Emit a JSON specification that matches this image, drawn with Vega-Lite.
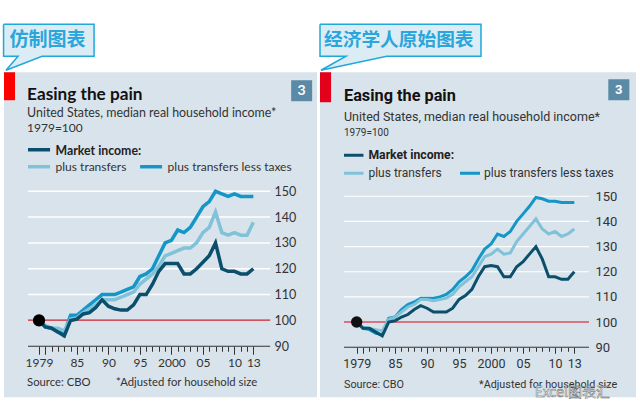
{"$schema":"https://vega.github.io/schema/vega-lite/v6.json","background":"white","padding":{"left":0,"top":20.25,"right":0,"bottom":0},"autosize":"pad","bounds":"flush","spacing":3,"config":{"view":{"fill":"#d9e3eb","stroke":null}},
"datasets":{"left":[
{"a":1979,"taxes":100,"transfers":100,"market":100},{"a":1980,"taxes":97.5,"transfers":98,"market":97.5},{"a":1981,"taxes":97,"transfers":97,"market":97},{"a":1982,"taxes":95.5,"transfers":97,"market":95.5},{"a":1983,"taxes":95,"transfers":96,"market":94},{"a":1984,"taxes":102,"transfers":100.5,"market":100},{"a":1985,"taxes":102,"transfers":101,"market":100.5},{"a":1986,"taxes":104,"transfers":103,"market":102.5},{"a":1987,"taxes":106,"transfers":104.5,"market":103},{"a":1988,"taxes":108,"transfers":106,"market":105},{"a":1989,"taxes":110,"transfers":108,"market":108},{"a":1990,"taxes":110,"transfers":108,"market":105.5},{"a":1991,"taxes":110,"transfers":108,"market":104.5},{"a":1992,"taxes":111,"transfers":109,"market":104},{"a":1993,"taxes":112,"transfers":110,"market":104},{"a":1994,"taxes":113,"transfers":111,"market":106},{"a":1995,"taxes":117,"transfers":114,"market":110},{"a":1996,"taxes":118,"transfers":116,"market":110},{"a":1997,"taxes":120,"transfers":118,"market":114},{"a":1998,"taxes":125,"transfers":121,"market":119},{"a":1999,"taxes":130,"transfers":125,"market":122},{"a":2000,"taxes":131,"transfers":126,"market":122},{"a":2001,"taxes":135,"transfers":127,"market":122},{"a":2002,"taxes":134,"transfers":128,"market":118},{"a":2003,"taxes":136,"transfers":128,"market":118},{"a":2004,"taxes":140,"transfers":130,"market":120},{"a":2005,"taxes":144,"transfers":134,"market":122.5},{"a":2006,"taxes":146,"transfers":136,"market":125},{"a":2007,"taxes":150,"transfers":142,"market":130},{"a":2008,"taxes":149,"transfers":134,"market":120},{"a":2009,"taxes":148,"transfers":133,"market":119},{"a":2010,"taxes":149,"transfers":134,"market":119},{"a":2011,"taxes":148,"transfers":133,"market":118},{"a":2012,"taxes":148,"transfers":133,"market":118},{"a":2013,"taxes":148,"transfers":138,"market":120}],
"right":[
{"a":1979,"taxes":100,"transfers":100,"market":100},{"a":1980,"taxes":97.5,"transfers":98,"market":97.5},{"a":1981,"taxes":97,"transfers":97.5,"market":97.5},{"a":1982,"taxes":95.5,"transfers":97,"market":96},{"a":1983,"taxes":95,"transfers":96.5,"market":94.5},{"a":1984,"taxes":101.5,"transfers":101,"market":100},{"a":1985,"taxes":102,"transfers":102,"market":100.5},{"a":1986,"taxes":105,"transfers":104,"market":102},{"a":1987,"taxes":107,"transfers":106,"market":103},{"a":1988,"taxes":108,"transfers":107,"market":105},{"a":1989,"taxes":109.5,"transfers":109,"market":106.5},{"a":1990,"taxes":109.5,"transfers":109,"market":105.5},{"a":1991,"taxes":109.5,"transfers":108.5,"market":104},{"a":1992,"taxes":110,"transfers":109,"market":104},{"a":1993,"taxes":111,"transfers":109.5,"market":104},{"a":1994,"taxes":113,"transfers":111,"market":105.5},{"a":1995,"taxes":116,"transfers":114,"market":109},{"a":1996,"taxes":118,"transfers":116,"market":110.5},{"a":1997,"taxes":120.5,"transfers":118,"market":113},{"a":1998,"taxes":125,"transfers":122,"market":118},{"a":1999,"taxes":129,"transfers":126,"market":122},{"a":2000,"taxes":131,"transfers":127,"market":122.5},{"a":2001,"taxes":135,"transfers":129,"market":122},{"a":2002,"taxes":134,"transfers":127,"market":118},{"a":2003,"taxes":136,"transfers":127.5,"market":118},{"a":2004,"taxes":140,"transfers":132,"market":122},{"a":2005,"taxes":143,"transfers":135,"market":124},{"a":2006,"taxes":146,"transfers":138,"market":127},{"a":2007,"taxes":149.5,"transfers":141,"market":130},{"a":2008,"taxes":149,"transfers":137,"market":125},{"a":2009,"taxes":148,"transfers":135,"market":118},{"a":2010,"taxes":148,"transfers":136,"market":118},{"a":2011,"taxes":147.5,"transfers":134,"market":117},{"a":2012,"taxes":147.5,"transfers":135,"market":117},{"a":2013,"taxes":147.5,"transfers":137,"market":120}]},
"hconcat":[
{"width":313,"height":325,"encoding":{"x":{"field":"a","type":"quantitative","scale":{"domain":[1973.44,2023.1],"nice":false,"zero":false},"axis":{"title":null,"grid":false,"domain":false,"offset":-51,"values":[1979,1980,1981,1982,1983,1984,1985,1986,1987,1988,1989,1990,1991,1992,1993,1994,1995,1996,1997,1998,1999,2000,2001,2002,2003,2004,2005,2006,2007,2008,2009,2010,2011,2012,2013],"labelExpr":"datum.value==1979?'1979':datum.value==1985?'85':datum.value==1990?'90':datum.value==1995?'95':datum.value==2000?'2000':datum.value==2005?'05':datum.value==2010?'10':datum.value==2013?'13':''","labelOverlap":false,"labelFont":"Lato","labelFontSize":12,"labelColor":"#333333","labelPadding":3,"tickColor":"#333333","tickWidth":1,"tickSize":{"condition":{"test":"datum.value==1979||datum.value%5==0||datum.value==2013","value":8},"value":5}}},"y":{"field":"c","type":"quantitative","scale":{"domain":[70.26,196.07],"nice":false,"zero":false},"axis":{"title":null,"grid":false,"domain":false,"ticks":false,"orient":"right","offset":-47,"values":[90,100,110,120,130,140,150],"labelFont":"Lato","labelFontSize":12.5,"labelColor":"#333333","labelPadding":4}}},"layer":[
{"data":{"values":[{"a":1973.44,"b":1975.19,"c":196.07,"d":185.24}]},"mark":{"type":"rect","color":"#ff0000"},"encoding":{"x2":{"field":"b"},"y2":{"field":"d"}}},
{"data":{"values":[{"a":2019,"b":2022.33,"c":192.98,"d":184.85}]},"mark":{"type":"rect","color":"#5b8aa6"},"encoding":{"x2":{"field":"b"},"y2":{"field":"d"}}},
{"data":{"values":[{"o":1,"a":1973.37,"c":214.66},{"o":2,"a":1987.73,"c":214.66},{"o":3,"a":1987.73,"c":202.27},{"o":4,"a":1979.48,"c":202.27},{"o":5,"a":1973.76,"c":196.85},{"o":6,"a":1975.67,"c":202.27},{"o":7,"a":1973.37,"c":202.27},{"o":8,"a":1973.37,"c":214.66}]},"mark":{"type":"line","fill":"#dcecf5","stroke":"#1fa8dc","strokeWidth":1.5,"clip":false},"encoding":{"order":{"field":"o"}}},
{"data":{"values":[{"a":1977.25,"b":2015.67,"c":110},{"a":1977.25,"b":2015.67,"c":120},{"a":1977.25,"b":2015.67,"c":130},{"a":1977.25,"b":2015.67,"c":140},{"a":1977.25,"b":2015.67,"c":150}]},"mark":{"type":"rule","color":"#ffffff","strokeWidth":1.5},"encoding":{"x2":{"field":"b"}}},
{"data":{"values":[{"a":1977.25,"b":2015.67,"c":100.1}]},"mark":{"type":"rule","color":"#d0202c","strokeWidth":1.2},"encoding":{"x2":{"field":"b"}}},
{"data":{"values":[{"a":1977.25,"b":2015.67,"c":90}]},"mark":{"type":"rule","color":"#333333","strokeWidth":1},"encoding":{"x2":{"field":"b"}}},
{"data":{"name":"left"},"transform":[{"fold":["taxes","transfers","market"],"as":["series","c"]}],"mark":{"type":"line","strokeWidth":3.5,"clip":false},"encoding":{"color":{"field":"series","type":"nominal","scale":{"domain":["taxes","transfers","market"],"range":["#1496c9","#80c2d8","#0b4f6c"]},"legend":null},"order":{"field":"a"}}},
{"data":{"values":[{"a":1977.25,"b":1980.75,"c":166.07,"series":"market"},{"a":1977.25,"b":1980.75,"c":159.5,"series":"transfers"},{"a":1995.03,"b":1998.52,"c":159.5,"series":"taxes"}]},"mark":{"type":"rule","strokeWidth":3.5},"encoding":{"x2":{"field":"b"},"color":{"field":"series","type":"nominal","legend":null}}},
{"data":{"values":[{"a":1979,"c":100}]},"mark":{"type":"point","filled":true,"color":"#000000","size":150,"opacity":1}},
{"data":{"values":[{"a":1977.1,"c":187.37,"t":"Easing the pain"}]},"mark":{"type":"text","align":"left","baseline":"middle","font":"Lato","fontWeight":"bold","fontSize":17.2,"color":"#111111"},"encoding":{"text":{"field":"t"}}},
{"data":{"values":[{"a":1977.1,"c":180.2,"t":"United States, median real household income*"}]},"mark":{"type":"text","align":"left","baseline":"middle","font":"Lato","fontSize":12.4,"color":"#333333"},"encoding":{"text":{"field":"t"}}},
{"data":{"values":[{"a":1977.1,"c":174.4,"t":"1979=100"},{"a":1981.62,"c":159.5,"t":"plus transfers"},{"a":1999.4,"c":159.5,"t":"plus transfers less taxes"}]},"mark":{"type":"text","align":"left","baseline":"middle","font":"Lato","fontSize":12,"color":"#333333"},"encoding":{"text":{"field":"t"}}},
{"data":{"values":[{"a":1977.1,"c":75.87,"t":"Source: CBO"},{"a":1991.22,"c":75.87,"t":"*Adjusted for household size"}]},"mark":{"type":"text","align":"left","baseline":"middle","font":"Lato","fontSize":11.3,"color":"#333333"},"encoding":{"text":{"field":"t"}}},
{"data":{"values":[{"a":1981.62,"c":165.69,"t":"Market income:"}]},"mark":{"type":"text","align":"left","baseline":"middle","font":"Lato","fontWeight":"bold","fontSize":12.3,"color":"#222222"},"encoding":{"text":{"field":"t"}}},
{"data":{"values":[{"a":2020.67,"c":188.9,"t":"3"}]},"mark":{"type":"text","align":"center","baseline":"middle","font":"Lato","fontWeight":"bold","fontSize":14,"color":"#ffffff"},"encoding":{"text":{"field":"t"}}},
{"data":{"values":[{"a":1974.3,"c":208.5,"t":"仿制图表"}]},"mark":{"type":"text","align":"left","baseline":"middle","font":"Noto Sans CJK SC","fontWeight":"bold","fontSize":19,"color":"#2aa6dc","clip":false},"encoding":{"text":{"field":"t"}}}
]},
{"width":316,"height":325,"encoding":{"x":{"field":"a","type":"quantitative","scale":{"domain":[1973.27,2022.64],"nice":false,"zero":false},"axis":{"title":null,"grid":false,"domain":false,"offset":-50,"values":[1979,1980,1981,1982,1983,1984,1985,1986,1987,1988,1989,1990,1991,1992,1993,1994,1995,1996,1997,1998,1999,2000,2001,2002,2003,2004,2005,2006,2007,2008,2009,2010,2011,2012,2013],"labelExpr":"datum.value==1979?'1979':datum.value==1985?'85':datum.value==1990?'90':datum.value==1995?'95':datum.value==2000?'2000':datum.value==2005?'05':datum.value==2010?'10':datum.value==2013?'13':''","labelOverlap":false,"labelFont":"Roboto","labelFontSize":12.5,"labelColor":"#333333","labelPadding":4,"tickColor":"#333333","tickWidth":1,"tickSize":{"condition":{"test":"datum.value==1979||datum.value%5==0||datum.value==2013","value":6},"value":4}}},"y":{"field":"c","type":"quantitative","scale":{"domain":[70.13,199.26],"nice":false,"zero":false},"axis":{"title":null,"grid":false,"domain":false,"ticks":false,"orient":"right","offset":-47,"values":[90,100,110,120,130,140,150],"labelFont":"Roboto","labelFontSize":13,"labelColor":"#333333","labelPadding":6}}},"layer":[
{"data":{"values":[{"a":1973.27,"b":1975,"c":199.26,"d":187.34}]},"mark":{"type":"rect","color":"#e3001b"},"encoding":{"x2":{"field":"b"},"y2":{"field":"d"}}},
{"data":{"values":[{"a":2018.31,"b":2021.6,"c":196.48,"d":188.13}]},"mark":{"type":"rect","color":"#5b8aa6"},"encoding":{"x2":{"field":"b"},"y2":{"field":"d"}}},
{"data":{"values":[{"o":1,"a":1973.27,"c":218.33},{"o":2,"a":1998.42,"c":218.33},{"o":3,"a":1998.42,"c":205.61},{"o":4,"a":1983.69,"c":205.61},{"o":5,"a":1973.42,"c":200.05},{"o":6,"a":1977.33,"c":205.61},{"o":7,"a":1973.27,"c":205.61},{"o":8,"a":1973.27,"c":218.33}]},"mark":{"type":"line","fill":"#dcecf5","stroke":"#1fa8dc","strokeWidth":1.5,"clip":false},"encoding":{"order":{"field":"o"}}},
{"data":{"values":[{"a":1977.02,"b":2015.3,"c":110},{"a":1977.02,"b":2015.3,"c":120},{"a":1977.02,"b":2015.3,"c":130},{"a":1977.02,"b":2015.3,"c":140},{"a":1977.02,"b":2015.3,"c":150}]},"mark":{"type":"rule","color":"#ffffff","strokeWidth":1.2},"encoding":{"x2":{"field":"b"}}},
{"data":{"values":[{"a":1977.02,"b":2015.3,"c":100}]},"mark":{"type":"rule","color":"#d9505e","strokeWidth":1.5},"encoding":{"x2":{"field":"b"}}},
{"data":{"values":[{"a":1977.02,"b":2015.3,"c":90}]},"mark":{"type":"rule","color":"#333333","strokeWidth":1},"encoding":{"x2":{"field":"b"}}},
{"data":{"name":"right"},"transform":[{"fold":["taxes","transfers","market"],"as":["series","c"]}],"mark":{"type":"line","strokeWidth":3,"clip":false},"encoding":{"color":{"field":"series","type":"nominal","scale":{"domain":["taxes","transfers","market"],"range":["#1a8fc0","#85c3e0","#0b4f6c"]},"legend":null},"order":{"field":"a"}}},
{"data":{"values":[{"a":1977.02,"b":1980.06,"c":166.28,"series":"market"},{"a":1977.02,"b":1980.06,"c":159.13,"series":"transfers"},{"a":1995.14,"b":1998.27,"c":159.13,"series":"taxes"}]},"mark":{"type":"rule","strokeWidth":3},"encoding":{"x2":{"field":"b"},"color":{"field":"series","type":"nominal","legend":null}}},
{"data":{"values":[{"a":1979,"c":100}]},"mark":{"type":"point","filled":true,"color":"#111111","size":130,"opacity":1}},
{"data":{"values":[{"a":1977.02,"c":189.72,"t":"Easing the pain"}]},"mark":{"type":"text","align":"left","baseline":"middle","font":"Roboto","fontWeight":"bold","fontSize":16.3,"color":"#111111"},"encoding":{"text":{"field":"t"}}},
{"data":{"values":[{"a":1977.02,"c":181.58,"t":"United States, median real household income*"}]},"mark":{"type":"text","align":"left","baseline":"middle","font":"Roboto","fontSize":12.5,"color":"#333333"},"encoding":{"text":{"field":"t"}}},
{"data":{"values":[{"a":1980.84,"c":159.13,"t":"plus transfers"},{"a":1998.89,"c":159.13,"t":"plus transfers less taxes"}]},"mark":{"type":"text","align":"left","baseline":"middle","font":"Roboto","fontSize":12,"color":"#333333"},"encoding":{"text":{"field":"t"}}},
{"data":{"values":[{"a":1977.02,"c":75.1,"t":"Source: CBO"},{"a":1998.11,"c":75.1,"t":"*Adjusted for household size"}]},"mark":{"type":"text","align":"left","baseline":"middle","font":"Roboto","fontSize":10.8,"color":"#333333"},"encoding":{"text":{"field":"t"}}},
{"data":{"values":[{"a":1977.02,"c":175.02,"t":"1979=100"}]},"mark":{"type":"text","align":"left","baseline":"middle","font":"Roboto","fontSize":10,"color":"#333333"},"encoding":{"text":{"field":"t"}}},
{"data":{"values":[{"a":1980.84,"c":166.28,"t":"Market income:"}]},"mark":{"type":"text","align":"left","baseline":"middle","font":"Roboto","fontWeight":"bold","fontSize":12.2,"color":"#222222"},"encoding":{"text":{"field":"t"}}},
{"data":{"values":[{"a":2019.96,"c":192.3,"t":"3"}]},"mark":{"type":"text","align":"center","baseline":"middle","font":"Roboto","fontWeight":"bold","fontSize":13,"color":"#ffffff"},"encoding":{"text":{"field":"t"}}},
{"data":{"values":[{"a":1973.9,"c":212,"t":"经济学人原始图表"}]},"mark":{"type":"text","align":"left","baseline":"middle","font":"Noto Sans CJK SC","fontWeight":"bold","fontSize":18.7,"color":"#2aa6dc","clip":false},"encoding":{"text":{"field":"t"}}},
{"data":{"values":[{"a":2006.84,"c":71.72,"t":"Excel图表汇"}]},"mark":{"type":"text","align":"left","baseline":"middle","font":"Noto Sans CJK SC","fontSize":14,"color":"#f2f2f2","stroke":"#555555","strokeWidth":0.4},"encoding":{"text":{"field":"t"}}}
]}
]}
